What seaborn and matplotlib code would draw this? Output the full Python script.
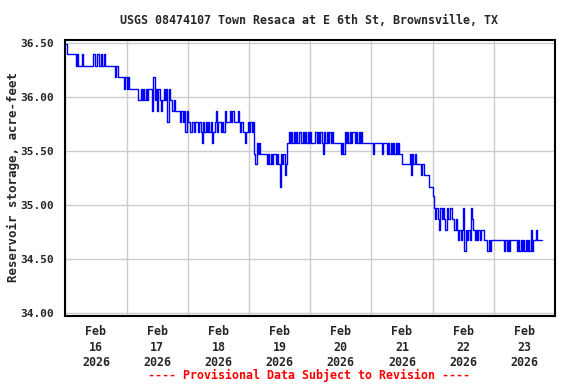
"""USGS 08474107 reservoir storage, Feb 16-23 2026 (provisional)."""

import matplotlib
matplotlib.use("Agg")
import matplotlib.pyplot as plt
import matplotlib.dates as mdates
from matplotlib.ticker import FormatStrFormatter, NullFormatter
import pandas as pd
import seaborn as sns

TITLE = "USGS 08474107 Town Resaca at E 6th St, Brownsville, TX"
YLABEL = "Reservoir storage, acre-feet"
NOTE = "---- Provisional Data Subject to Revision ----"
START = "2026-02-16 00:00"
STEP = "30min"
Y_TICKS = [34.0, 34.5, 35.0, 35.5, 36.0, 36.5]

# storage readings, every 30 minutes, one list per day
feb16 = [36.49, 36.39, 36.39, 36.39, 36.39, 36.39, 36.39, 36.39,
         36.28, 36.39, 36.28, 36.28, 36.28, 36.39, 36.28, 36.28,
         36.28, 36.28, 36.28, 36.28, 36.28, 36.28, 36.39, 36.28,
         36.28, 36.39, 36.28, 36.28, 36.39, 36.28, 36.39, 36.28,
         36.28, 36.28, 36.28, 36.28, 36.28, 36.28, 36.28, 36.18,
         36.28, 36.18, 36.18, 36.18, 36.18, 36.18, 36.07, 36.18]
feb17 = [36.07, 36.18, 36.07, 36.07, 36.07, 36.07, 36.07, 36.07,
         36.07, 35.97, 35.97, 36.07, 35.97, 36.07, 35.97, 36.07,
         35.97, 36.07, 36.07, 36.07, 35.87, 36.18, 35.97, 36.07,
         35.87, 36.07, 35.97, 35.87, 35.97, 36.07, 35.97, 36.07,
         35.77, 36.07, 35.97, 35.97, 35.87, 35.97, 35.87, 35.87,
         35.87, 35.87, 35.77, 35.87, 35.77, 35.87, 35.67, 35.87]
feb18 = [35.77, 35.77, 35.67, 35.77, 35.77, 35.67, 35.77, 35.77,
         35.67, 35.77, 35.67, 35.57, 35.77, 35.67, 35.77, 35.67,
         35.77, 35.67, 35.77, 35.57, 35.67, 35.77, 35.87, 35.67,
         35.77, 35.77, 35.67, 35.77, 35.67, 35.87, 35.77, 35.77,
         35.77, 35.87, 35.77, 35.87, 35.77, 35.77, 35.77, 35.87,
         35.77, 35.67, 35.77, 35.67, 35.67, 35.57, 35.67, 35.77]
feb19 = [35.67, 35.77, 35.67, 35.77, 35.47, 35.38, 35.57, 35.47,
         35.57, 35.47, 35.47, 35.47, 35.47, 35.47, 35.38, 35.47,
         35.38, 35.47, 35.38, 35.47, 35.47, 35.38, 35.47, 35.38,
         35.17, 35.47, 35.38, 35.47, 35.28, 35.38, 35.57, 35.67,
         35.57, 35.67, 35.57, 35.67, 35.57, 35.67, 35.57, 35.67,
         35.67, 35.57, 35.67, 35.57, 35.67, 35.57, 35.67, 35.57]
feb20 = [35.67, 35.57, 35.57, 35.57, 35.67, 35.57, 35.67, 35.57,
         35.67, 35.57, 35.47, 35.67, 35.57, 35.67, 35.57, 35.67,
         35.57, 35.67, 35.57, 35.57, 35.57, 35.57, 35.57, 35.57,
         35.47, 35.57, 35.47, 35.67, 35.57, 35.67, 35.57, 35.67,
         35.57, 35.67, 35.67, 35.57, 35.67, 35.57, 35.67, 35.57,
         35.67, 35.57, 35.57, 35.57, 35.57, 35.57, 35.57, 35.57]
feb21 = [35.57, 35.47, 35.57, 35.57, 35.57, 35.57, 35.57, 35.57,
         35.47, 35.57, 35.57, 35.57, 35.47, 35.57, 35.47, 35.57,
         35.47, 35.57, 35.47, 35.57, 35.47, 35.57, 35.47, 35.47,
         35.38, 35.38, 35.38, 35.38, 35.38, 35.38, 35.47, 35.28,
         35.47, 35.38, 35.47, 35.38, 35.38, 35.38, 35.38, 35.28,
         35.38, 35.28, 35.28, 35.28, 35.28, 35.17, 35.17, 35.17]
feb22 = [35.08, 34.97, 34.87, 34.97, 34.87, 34.77, 34.97, 34.87,
         34.97, 34.87, 34.77, 34.97, 34.87, 34.87, 34.97, 34.87,
         34.87, 34.77, 34.87, 34.77, 34.68, 34.77, 34.68, 34.77,
         34.97, 34.58, 34.77, 34.68, 34.77, 34.68, 34.97, 34.87,
         34.77, 34.68, 34.77, 34.68, 34.77, 34.68, 34.77, 34.77,
         34.68, 34.68, 34.68, 34.58, 34.68, 34.58, 34.68, 34.68]
feb23 = [34.68, 34.68, 34.68, 34.68, 34.68, 34.68, 34.68, 34.68,
         34.58, 34.68, 34.58, 34.68, 34.58, 34.68, 34.68, 34.68,
         34.68, 34.68, 34.58, 34.68, 34.58, 34.68, 34.58, 34.68,
         34.58, 34.68, 34.58, 34.68, 34.58, 34.77, 34.58, 34.68,
         34.68, 34.77, 34.68, 34.68, 34.68, 34.68, 34.68]

storage = feb16 + feb17 + feb18 + feb19 + feb20 + feb21 + feb22 + feb23
df = pd.DataFrame({
    "time": pd.date_range(START, periods=len(storage), freq=STEP),
    "storage": storage,
})

sns.set_style("white")
plt.rcParams["font.family"] = ["DejaVu Sans Mono"]
plt.rcParams["font.weight"] = "bold"

fig, ax = plt.subplots(figsize=(5.76, 3.84), dpi=100)
fig.subplots_adjust(left=0.1135, right=0.9635, top=0.897, bottom=0.177)

sns.lineplot(data=df, x="time", y="storage", ax=ax, estimator=None,
             drawstyle="steps-post", color="#0000ff", lw=1.0)

ax.set_xlim(pd.Timestamp("2026-02-16"), pd.Timestamp("2026-02-24"))
ax.set_ylim(33.975, 36.528)
ax.set_yticks(Y_TICKS)
ax.yaxis.set_major_formatter(FormatStrFormatter("%.2f"))

# gridlines at midnight, labels centred on each day
ax.xaxis.set_major_locator(mdates.DayLocator())
ax.xaxis.set_major_formatter(NullFormatter())
ax.xaxis.set_minor_locator(mdates.HourLocator(byhour=[12]))
ax.xaxis.set_minor_formatter(mdates.DateFormatter("%b\n%d\n%Y"))

ax.grid(True, which="major", color="#cccccc", lw=1.0)
ax.set_axisbelow(True)
ax.tick_params(axis="x", which="both", length=0, pad=6.5, labelsize=8.4)
ax.tick_params(axis="y", length=0, pad=8, labelsize=8.0)
for lbl in ax.get_xticklabels(minor=True):
    lbl.set_linespacing(1.25)

for side in ax.spines.values():
    side.set_visible(True)
    side.set_color("black")
    side.set_linewidth(1.5)

ax.set_xlabel("")
ax.set_ylabel("")
fig.text(0.537, 1 - 20 / 384, TITLE, ha="center", va="center", fontsize=8.4, weight="bold")
fig.text(13 / 576, 1 - 177 / 384, YLABEL, ha="center", va="center",
         rotation=90, fontsize=9, weight="bold")
fig.text(0.5356, 1 - 375 / 384, NOTE, ha="center", va="center",
         fontsize=8.4, weight="bold", color="red")

fig.savefig("out.png", dpi=100)
plt.close()
